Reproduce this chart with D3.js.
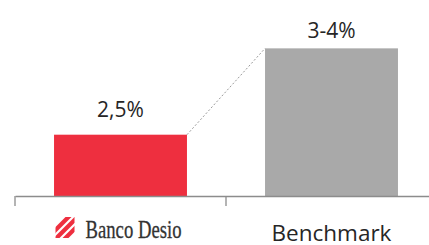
<!DOCTYPE html>
<html>
<head>
<meta charset="utf-8">
<script src="https://cdn.jsdelivr.net/npm/d3@7"></script>
<style>
  html, body { margin: 0; padding: 0; background: #fff; }
  svg { display: block; }
</style>
</head>
<body>
<div id="plot"></div>
<script>
// Chart data
var categories = ["Banco Desio", "Benchmark"];
var values = [2.5, 3.5];
var value_labels = ["2,5%", "3-4%"];
var colors = ["#ee2f3f", "#a9a9a9"];

var width = 429, height = 245;
var base_y = 196;

var svg = d3.select("div#plot")
    .append("svg")
        .attr("width", width)
        .attr("height", height);

var x_scale = d3.scaleBand()
    .domain(categories)
    .range([15, 437])
    .paddingInner(0.37)
    .paddingOuter(0.185);

var y_scale = d3.scaleLinear()
    .domain([1.79, 4.06])
    .range([base_y, 0]);

// Bars
svg.append("g")
    .selectAll("rect")
    .data(values)
    .join("rect")
        .attr("x", function(d, i) { return x_scale(categories[i]); })
        .attr("y", function(d) { return y_scale(d); })
        .attr("width", x_scale.bandwidth())
        .attr("height", function(d) { return base_y - y_scale(d); })
        .attr("fill", function(d, i) { return colors[i]; });

// Dotted connector between bar tops
svg.append("line")
    .attr("x1", x_scale(categories[0]) + x_scale.bandwidth())
    .attr("y1", y_scale(values[0]))
    .attr("x2", x_scale(categories[1]))
    .attr("y2", y_scale(values[1]))
    .attr("stroke", "#9a9a9a")
    .attr("stroke-width", 1)
    .attr("stroke-dasharray", "2,2");

// Value labels
svg.append("g")
    .selectAll("text")
    .data(values)
    .join("text")
        .attr("x", function(d, i) { return x_scale(categories[i]) + x_scale.bandwidth() / 2; })
        .attr("y", function(d, i) { return y_scale(d) - (i === 0 ? 18 : 10.5); })
        .attr("text-anchor", "middle")
        .attr("font-family", "'Open Sans', sans-serif")
        .attr("font-size", 21)
        .attr("fill", "#262626")
        .text(function(d, i) { return value_labels[i]; });

// X axis line and category boundary ticks
var g_axis = svg.append("g")
    .attr("transform", "translate(0, " + base_y + ")");
g_axis.call(d3.axisBottom(x_scale).tickSize(0).tickFormat(""));
g_axis.select(".domain").attr("stroke", "#8c8c8c").attr("stroke-width", 1.3);
var step = x_scale.step();
g_axis.selectAll("line.boundary")
    .data(d3.range(categories.length + 1))
    .join("line")
        .attr("class", "boundary")
        .attr("x1", function(i) { return 15 + i * step; })
        .attr("x2", function(i) { return 15 + i * step; })
        .attr("y1", 0)
        .attr("y2", 10)
        .attr("stroke", "#8c8c8c")
        .attr("stroke-width", 1.3);

// Category 1: Banco Desio logo (stripes + serif wordmark)
var c0 = x_scale(categories[0]) + x_scale.bandwidth() / 2;
var logo = svg.append("g")
    .attr("transform", "translate(" + (c0 - 65) + ", 217)");
svg.append("clipPath")
    .attr("id", "logo_clip")
    .append("rect")
        .attr("width", 19)
        .attr("height", 21);
var stripes = logo.append("g").attr("clip-path", "url(#logo_clip)");
[-9, 0, 9].forEach(function(o) {
    stripes.append("polygon")
        .attr("points", [
            [o - 2, 21], [o + 4, 21], [o + 25, 0], [o + 19, 0]
        ].map(function(p) { return p.join(","); }).join(" "))
        .attr("fill", "#ee2f3f");
});
logo.append("text")
    .attr("x", 30)
    .attr("y", 21)
    .attr("font-family", "'Liberation Serif', 'DejaVu Serif', serif")
    .attr("font-size", 25)
    .attr("textLength", 96)
    .attr("lengthAdjust", "spacingAndGlyphs")
    .attr("fill", "#333")
    .attr("stroke", "#333")
    .attr("stroke-width", 0.3)
    .text(categories[0]);

// Category 2 label
svg.append("text")
    .attr("x", x_scale(categories[1]) + x_scale.bandwidth() / 2)
    .attr("y", 241)
    .attr("text-anchor", "middle")
    .attr("font-family", "'Open Sans', sans-serif")
    .attr("font-size", 22.5)
    .attr("fill", "#262626")
    .text(categories[1]);
</script>
</body>
</html>
